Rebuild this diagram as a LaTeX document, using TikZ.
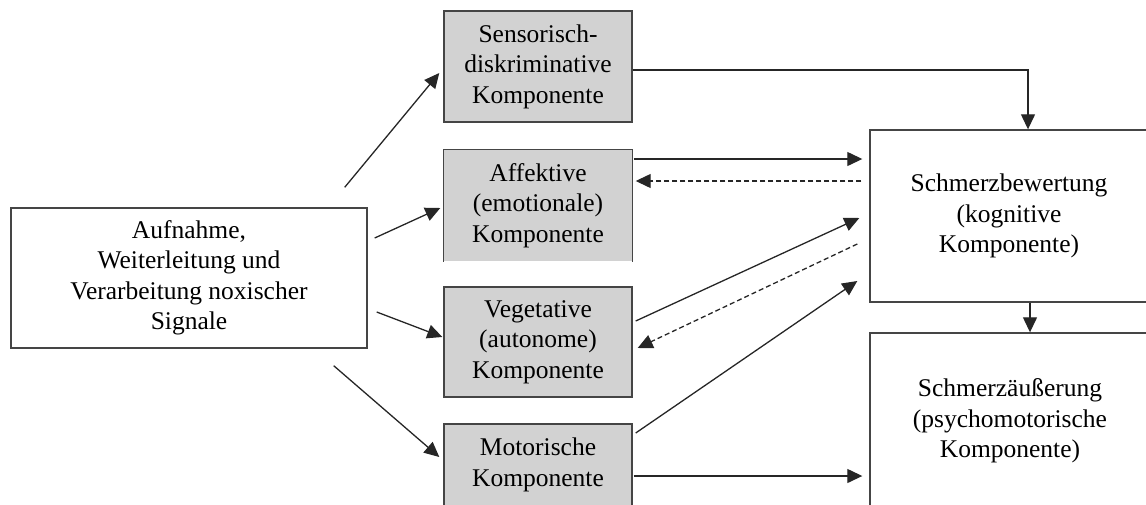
\documentclass[tikz,border=0pt]{standalone}
\usepackage{fontspec}
\setmainfont{Liberation Serif}
\usetikzlibrary{arrows.meta,calc}
\definecolor{boxgray}{HTML}{D2D2D2}
\definecolor{edgegray}{HTML}{454545}
\definecolor{arrowcol}{HTML}{262626}
\tikzset{
  box/.style={draw=edgegray, line width=1.4pt, align=center, inner sep=0pt,
              font=\fontsize{25.5}{30.5}\selectfont},
  graybox/.style={box, fill=boxgray},
  conn/.style={draw=arrowcol, line width=1.3pt,
               -{Triangle[length=15pt,width=14pt]}},
  back/.style={conn, dash pattern=on 5pt off 3pt},
}
\begin{document}
\begin{tikzpicture}[x=1pt, y=-1pt]
\useasboundingbox (0,0) rectangle (1146,504);
\clip (0,0) rectangle (1146,504);

% input stage
\node[box, minimum width=356pt, minimum height=140pt] (inp) at (189,278)
  {Aufnahme,\\Weiterleitung und\\Verarbeitung noxischer\\Signale};

% four components
\node[graybox, minimum width=188pt, minimum height=111pt] (sen) at (538,66.5)
  {Sensorisch-\\diskriminative\\Komponente};
\node[graybox, draw=none, minimum width=188pt, minimum height=111pt] (aff) at (538,205.5)
  {Affektive\\(emotionale)\\Komponente};
\draw[draw=edgegray, line width=1.4pt] (aff.south west) |- (aff.north east) -- (aff.south east);
\node[graybox, minimum width=188pt, minimum height=110pt] (veg) at (538,342)
  {Vegetative\\(autonome)\\Komponente};
\node[graybox, minimum width=188pt, minimum height=82pt] (mot) at (538,465)
  {Motorische\\Komponente};

% evaluation and expression
\node[box, minimum width=278pt, minimum height=172pt] (bew) at (1009,216)
  {Schmerzbewertung\\(kognitive\\Komponente)};
\node[box, minimum width=280pt, minimum height=176pt] (aus) at (1010,421)
  {Schmerzäußerung\\(psychomotorische\\Komponente)};

% input to components
\draw[conn] ($(inp.north east)+(-23,-20)$) -- ($(sen.west)+(-4,6.5)$);
\draw[conn] ($(inp.east)+(7,-40)$) -- ($(aff.west)+(-3,2.5)$);
\draw[conn] ($(inp.east)+(9,34)$) -- ($(veg.west)+(-1,-5)$);
\draw[conn] ($(inp.south east)+(-34,17)$) -- ($(mot.west)+(-4,-8)$);

% components to evaluation
\draw[conn] ($(sen.east)+(0,3.5)$) -| ($(bew.north)+(19,0)$);
\draw[conn] ($(aff.east)+(1,-46.5)$) -- ($(bew.west)+(-7,-57)$);
\draw[back] ($(bew.west)+(-8,-35)$) -- ($(aff.east)+(3,-24.5)$);
\draw[conn] ($(veg.east)+(3,-21)$) -- ($(bew.west)+(-10,2)$);
\draw[back] ($(bew.west)+(-12,28)$) -- ($(veg.east)+(5,6)$);
\draw[conn] ($(mot.east)+(3,-32)$) -- ($(bew.west)+(-12,65)$);
\draw[conn] ($(mot.east)+(1,11)$) -- ($(aus.west)+(-7,55)$);

% evaluation to expression
\draw[conn] ($(bew.south)+(21,0)$) -- ($(aus.north)+(20,0)$);
\end{tikzpicture}
\end{document}
